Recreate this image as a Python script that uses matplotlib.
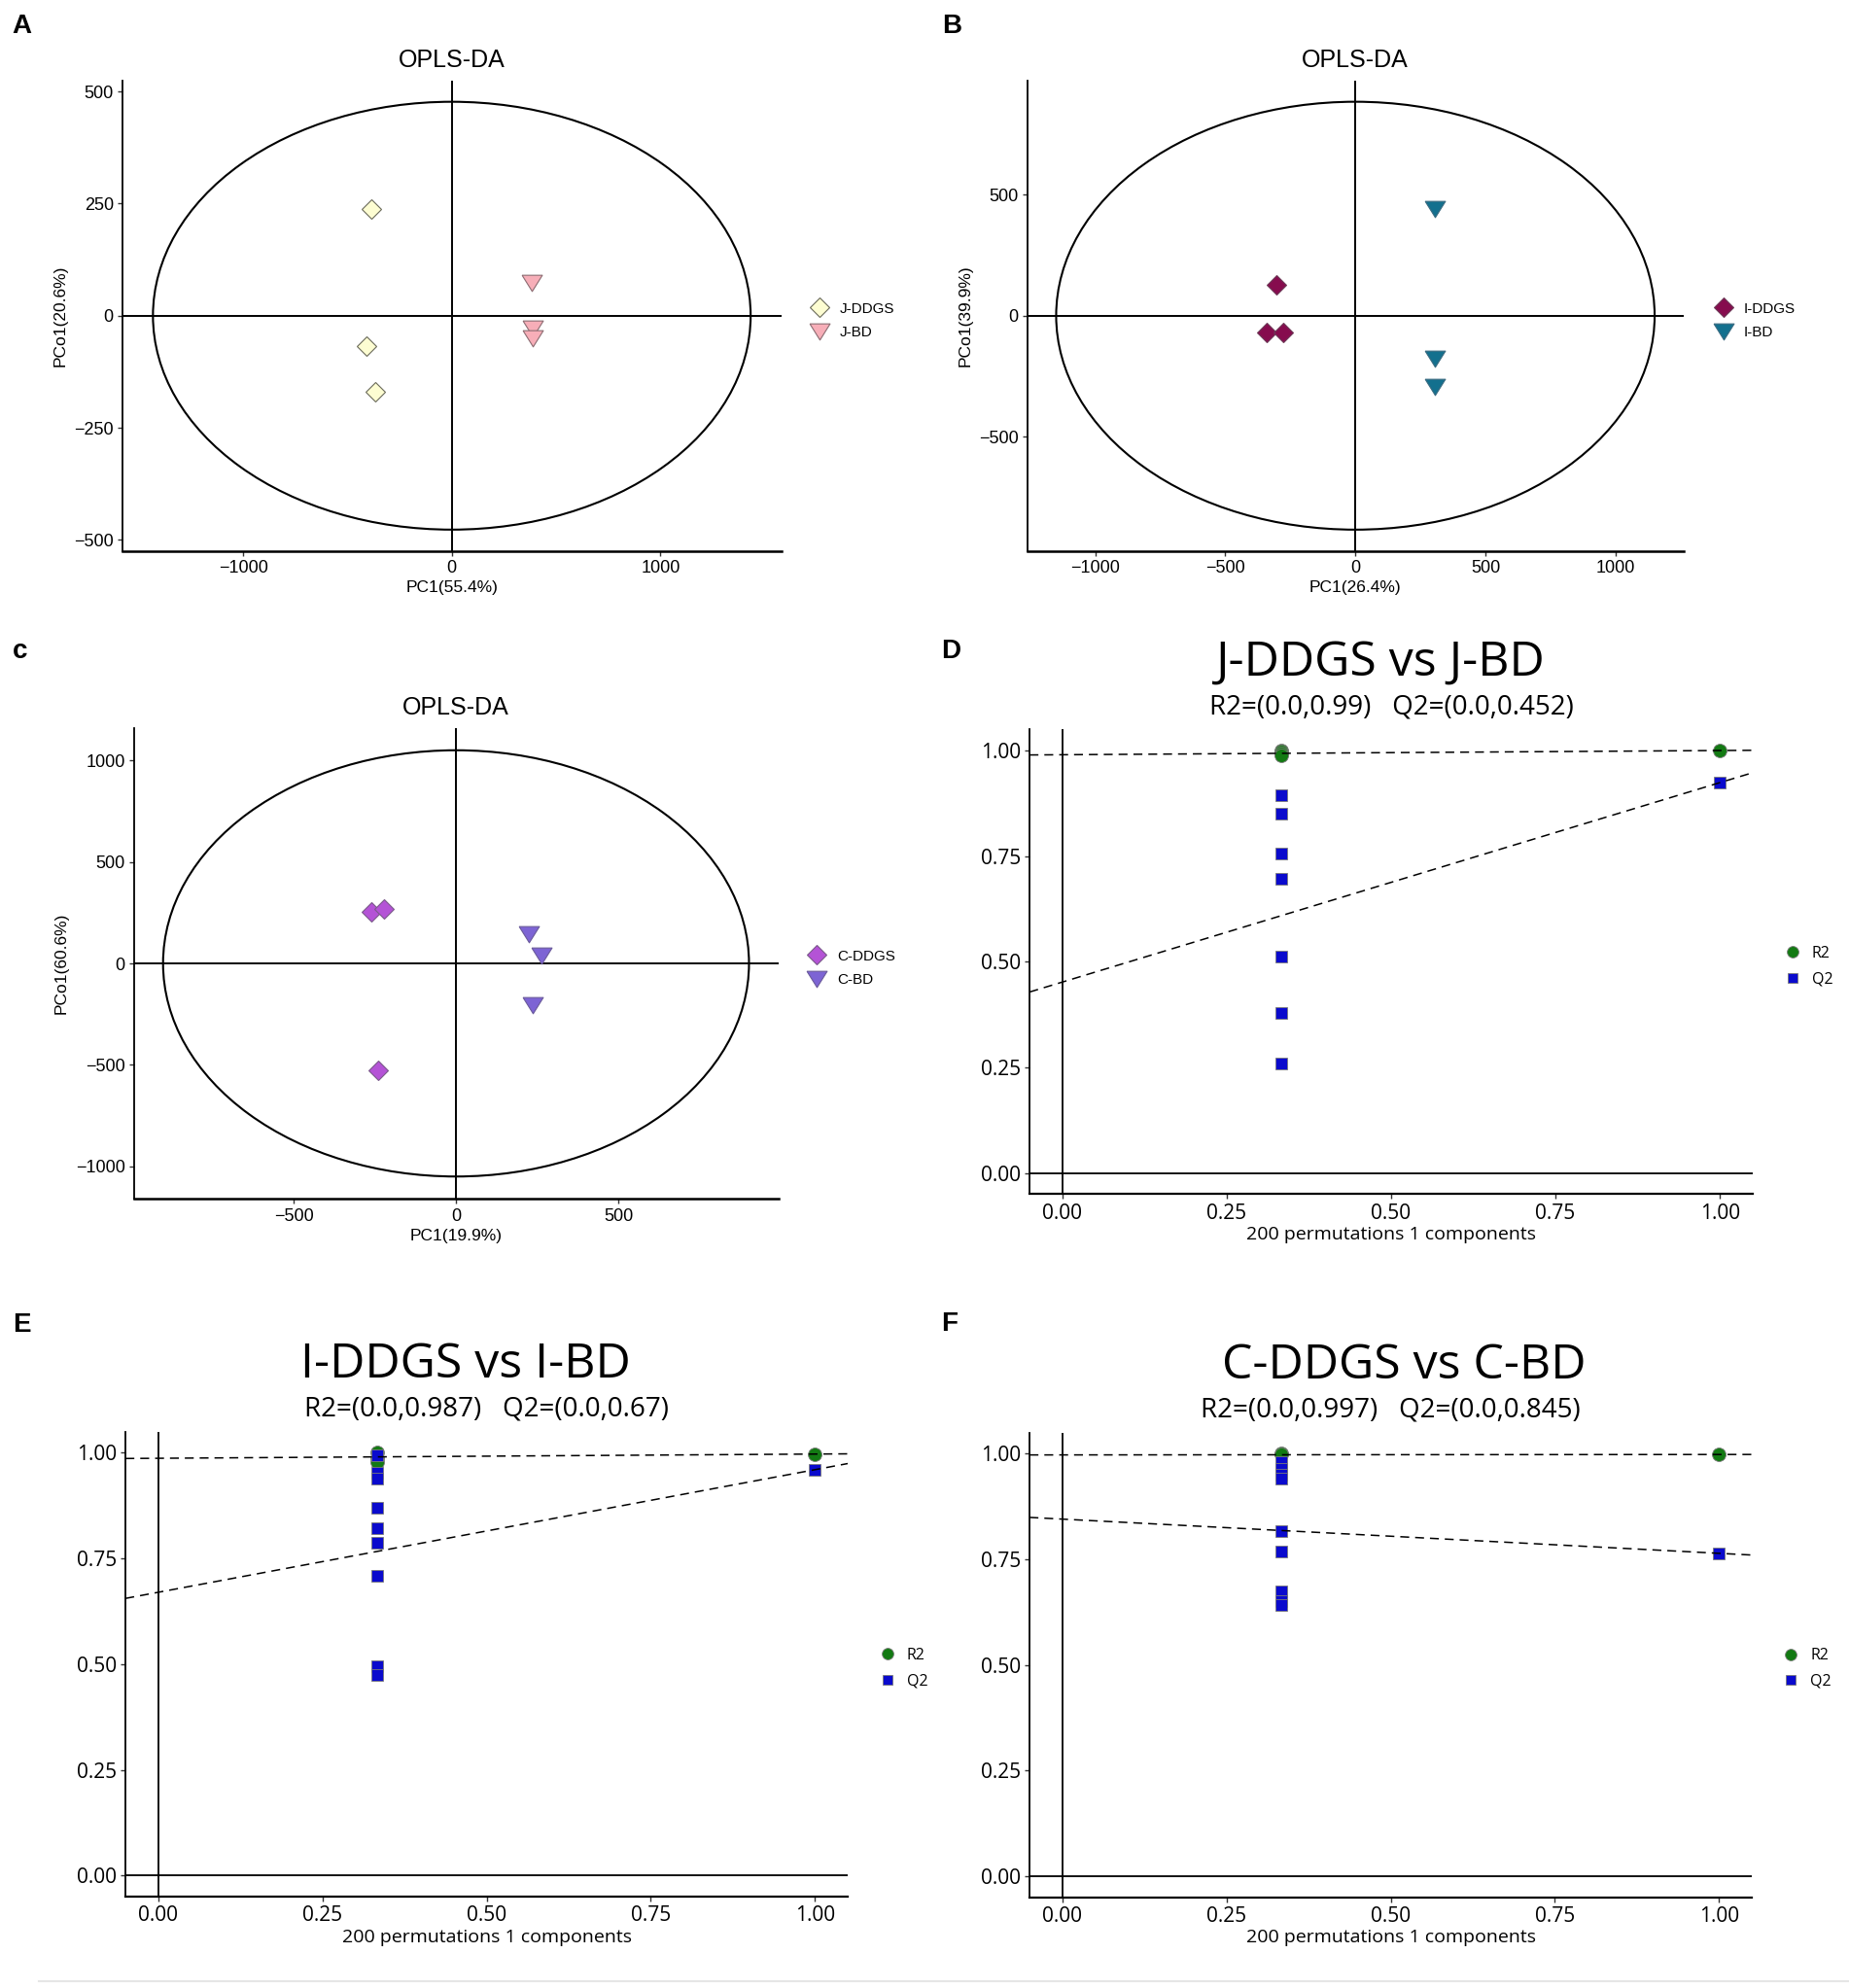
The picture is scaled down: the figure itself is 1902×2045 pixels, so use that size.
import matplotlib
matplotlib.use('Agg')
import matplotlib.pyplot as plt
from matplotlib.patches import Ellipse
from matplotlib.lines import Line2D

# ---------------- OPLS-DA score data (PC1, PCo1) ----------------
# panel A : J-DDGS vs J-BD
a_ddgs_x = [-385, -407, -365]
a_ddgs_y = [238, -68, -169]
a_bd_x = [385, 388, 388]
a_bd_y = [74, -28, -50]
a_ellipse = [1432, 477]

# panel B : I-DDGS vs I-BD
b_ddgs_x = [-302, -340, -277]
b_ddgs_y = [128, -68, -68]
b_bd_x = [304, 307, 304]
b_bd_y = [440, -176, -293]
b_ellipse = [1150, 884]

# panel C : C-DDGS vs C-BD
c_ddgs_x = [-262, -222, -241]
c_ddgs_y = [252, 270, -528]
c_bd_x = [223, 264, 237]
c_bd_y = [142, 38, -205]
c_ellipse = [903, 1050]

# ---------------- permutation test data ----------------
perm_x = 1 / 3          # correlation of permuted y with original y
orig_x = 1.0

d_r2_perm = [1.0, 0.998, 0.993, 0.988]
d_q2_perm = [0.894, 0.850, 0.757, 0.696, 0.512, 0.380, 0.260]
d_r2_orig, d_q2_orig = 1.0, 0.924
d_r2_int, d_q2_int = 0.99, 0.452

e_r2_perm = [1.0, 0.987, 0.977]
e_q2_perm = [0.994, 0.953, 0.939, 0.871, 0.821, 0.786, 0.709, 0.494, 0.474]
e_r2_orig, e_q2_orig = 0.997, 0.960
e_r2_int, e_q2_int = 0.987, 0.67

f_r2_perm = [1.0, 0.999]
f_q2_perm = [0.979, 0.965, 0.950, 0.940, 0.817, 0.769, 0.674, 0.650, 0.641]
f_r2_orig, f_q2_orig = 0.998, 0.764
f_r2_int, f_q2_int = 0.997, 0.845

# ---------------- figure layout (pixel based) ----------------
W, H = 1902, 2045
fig = plt.figure(figsize=(W / 100, H / 100), dpi=100)
fig.patch.set_facecolor('white')

ARIAL = ['Liberation Sans', 'DejaVu Sans']
OPEN = ['Open Sans', 'DejaVu Sans']


def px_rect(left, right, top, bottom):
    return [left / W, 1 - bottom / H, (right - left) / W, (bottom - top) / H]


def fig_text(x, y, s, **kw):
    fig.text(x / W, 1 - y / H, s, **kw)


# triangle pointing down, a bit wider than tall (like ggplot shape 25 here)
tri_down = [(-1, 0.8), (1, 0.8), (0, -0.8), (-1, 0.8)]


def opls_panel(rect, ddgs_x, ddgs_y, bd_x, bd_y, ell, xlim, ylim, xticks, yticks,
               xlabel, ylabel, names, colors, edges, legend_xy):
    ax = fig.add_axes(px_rect(*rect))
    ax.set_xlim(-xlim, xlim)
    ax.set_ylim(-ylim, ylim)
    ax.axhline(0, color='black', lw=1.4, zorder=1)
    ax.axvline(0, color='black', lw=1.4, zorder=1)
    ax.add_patch(Ellipse((0, 0), 2 * ell[0], 2 * ell[1], fill=False,
                         edgecolor='black', lw=1.5, zorder=1))
    ax.plot(ddgs_x, ddgs_y, ls='none', marker='D', ms=10.5, mfc=colors[0],
            mec=edges[0], mew=0.8, label=names[0], zorder=3)
    ax.plot(bd_x, bd_y, ls='none', marker=tri_down, ms=15, mfc=colors[1],
            mec=edges[1], mew=0.8, label=names[1], zorder=3)
    ax.set_xticks(xticks)
    ax.set_yticks(yticks)
    for sp in ['top', 'right']:
        ax.spines[sp].set_visible(False)
    ax.spines['left'].set_linewidth(1.3)
    ax.spines['bottom'].set_linewidth(1.8)
    ax.tick_params(length=3.6, width=1, color='#333333', pad=3, labelsize=13,
                   labelcolor='black')
    for lab in ax.get_xticklabels() + ax.get_yticklabels():
        lab.set_family(ARIAL)
    ax.set_xlabel(xlabel, family=ARIAL, fontsize=12.5, labelpad=3)
    ax.set_ylabel(ylabel, family=ARIAL, fontsize=12.5, labelpad=5)
    fig_text((rect[0] + rect[1]) / 2, rect[2] - 14, 'OPLS-DA', family=ARIAL,
             fontsize=18, ha='center', va='baseline')
    ax.legend(loc='center left', bbox_to_anchor=(legend_xy[0] / W, 1 - legend_xy[1] / H),
              bbox_transform=fig.transFigure, frameon=False, borderpad=0,
              borderaxespad=0, handlelength=1.0, handletextpad=0.85,
              labelspacing=0.7, prop={'family': ARIAL, 'size': 11})
    return ax


def perm_panel(rect, r2_perm, q2_perm, r2_orig, q2_orig, r2_int, q2_int,
               title, title_x, legend_xy):
    ax = fig.add_axes(px_rect(*rect))
    ax.set_xlim(-0.05, 1.05)
    ax.set_ylim(-0.05, 1.05)
    ax.axhline(0, color='black', lw=1.3, zorder=1)
    ax.axvline(0, color='black', lw=1.3, zorder=1)
    ax.plot([perm_x] * len(r2_perm) + [orig_x], r2_perm + [r2_orig], ls='none',
            marker='o', ms=10, mfc='#137a13', mec='#7a7a7a', mew=0.6,
            label='R2', zorder=2)
    ax.plot([perm_x] * len(q2_perm) + [orig_x], q2_perm + [q2_orig], ls='none',
            marker='s', ms=8.6, mfc='#0a0acd', mec='#7a7a7a', mew=0.6,
            label='Q2', zorder=2)
    # regression lines through the intercepts
    ax.axline((0, r2_int), slope=r2_orig - r2_int, color='black', lw=1.1,
              dashes=(6, 4), zorder=3)
    ax.axline((0, q2_int), slope=q2_orig - q2_int, color='black', lw=1.1,
              dashes=(6, 4), zorder=3)
    ticks = [0, 0.25, 0.5, 0.75, 1.0]
    ax.set_xticks(ticks)
    ax.set_yticks(ticks)
    ax.set_xticklabels([f'{t:.2f}' for t in ticks])
    ax.set_yticklabels([f'{t:.2f}' for t in ticks])
    for sp in ['top', 'right']:
        ax.spines[sp].set_visible(False)
    ax.spines['left'].set_linewidth(1.3)
    ax.spines['bottom'].set_linewidth(1.6)
    ax.tick_params(length=3.6, width=1, color='#333333', pad=3, labelsize=15,
                   labelcolor='black')
    for lab in ax.get_xticklabels() + ax.get_yticklabels():
        lab.set_family(OPEN)
    ax.set_xlabel('200 permutations 1 components', family=OPEN, fontsize=14,
                  labelpad=2)
    fig_text(title_x, rect[2] - 56, title, family=OPEN, fontsize=36,
             ha='center', va='baseline')
    fig_text((rect[0] + rect[1]) / 2, rect[2] - 16,
             f'R2=(0.0,{r2_int:g})   Q2=(0.0,{q2_int:g})', family=OPEN,
             fontsize=20, ha='center', va='baseline')
    ax.legend(loc='center left', bbox_to_anchor=(legend_xy[0] / W, 1 - legend_xy[1] / H),
              bbox_transform=fig.transFigure, frameon=False, borderpad=0,
              borderaxespad=0, handlelength=1.0, handletextpad=0.75,
              labelspacing=0.65, markerscale=0.85,
              prop={'family': OPEN, 'size': 11.5})
    return ax


# panel A
opls_panel((126, 803.5, 83, 566.5), a_ddgs_x, a_ddgs_y, a_bd_x, a_bd_y, a_ellipse,
           1578, 524, [-1000, 0, 1000], [-500, -250, 0, 250, 500],
           'PC1(55.4%)', 'PCo1(20.6%)', ['J-DDGS', 'J-BD'],
           ['#fdfdd2', '#f7aeb8'], ['#6a6a5a', '#8c6c72'], (835.5, 330))

# panel B
opls_panel((1057, 1731.5, 83, 566.5), b_ddgs_x, b_ddgs_y, b_bd_x, b_bd_y, b_ellipse,
           1260, 971, [-1000, -500, 0, 500, 1000], [-500, 0, 500],
           'PC1(26.4%)', 'PCo1(39.9%)', ['I-DDGS', 'I-BD'],
           ['#860c4e', '#13708e'], ['#6e3a58', '#3a6a80'], (1765, 330))

# panel C
opls_panel((137.7, 800.5, 748.6, 1233.4), c_ddgs_x, c_ddgs_y, c_bd_x, c_bd_y, c_ellipse,
           993, 1161, [-500, 0, 500], [-1000, -500, 0, 500, 1000],
           'PC1(19.9%)', 'PCo1(60.6%)', ['C-DDGS', 'C-BD'],
           ['#b453d6', '#7d64d4'], ['#7a5a8a', '#6a5a9a'], (832.5, 996))

# panel D, E, F : permutation tests
perm_panel((1059, 1803, 750.3, 1228.4), d_r2_perm, d_q2_perm, d_r2_orig, d_q2_orig,
           d_r2_int, d_q2_int, 'J-DDGS vs J-BD', 1420, (1836, 994))
perm_panel((129, 872, 1472.7, 1951), e_r2_perm, e_q2_perm, e_r2_orig, e_q2_orig,
           e_r2_int, e_q2_int, 'I-DDGS vs I-BD', 479, (905, 1716))
perm_panel((1059, 1802, 1473.6, 1951.5), f_r2_perm, f_q2_perm, f_r2_orig, f_q2_orig,
           f_r2_int, f_q2_int, 'C-DDGS vs C-BD', 1444, (1834.5, 1716.5))

# panel letters
for x, y, s in [(12, 33.5, 'A'), (969, 33.5, 'B'), (13, 677, 'c'),
                (968, 677, 'D'), (13, 1369.5, 'E'), (968, 1369, 'F')]:
    fig_text(x, y, s, family=ARIAL, fontsize=20, fontweight='bold',
             ha='left', va='baseline')

# thin grey rule at the very bottom
fig.add_artist(Line2D([40 / W, 1], [1 - 2038 / H] * 2, color='#e6e6e6', lw=1.5))

fig.savefig('out.png', dpi=100)
